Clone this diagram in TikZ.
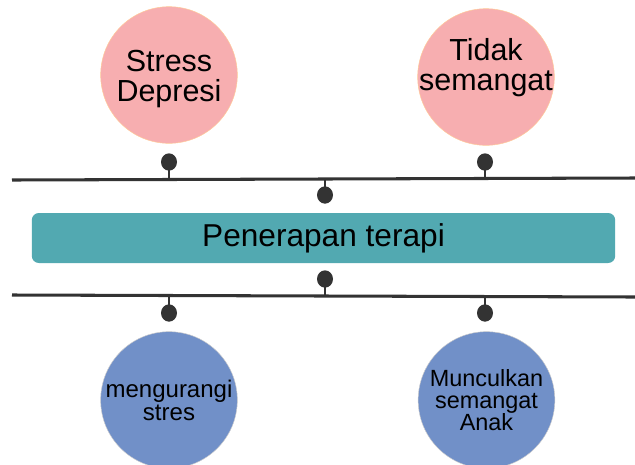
\documentclass[tikz,border=0pt]{standalone}
\usepackage{fontspec}
\setmainfont{Liberation Sans}
\usepackage{tikz}
\usetikzlibrary{positioning, arrows.meta}
\definecolor{merahmuda}{HTML}{F7AEB0}
\definecolor{birutua}{HTML}{7190C8}
\definecolor{tosca}{HTML}{52A9B1}
\definecolor{abugelap}{HTML}{333333}
\tikzset{
    lingkaran_masalah/.style={circle, draw=orange!40, fill=merahmuda, thin, minimum size=4.1cm, inner sep=0pt},
    teks_masalah/.style={align=center, inner sep=0pt, font=\fontsize{26}{26}\selectfont},
    lingkaran_hasil/.style={circle, draw=gray!40, fill=birutua, thin, minimum size=4.1cm, inner sep=0pt, align=center, font=\fontsize{20.5}{19.5}\selectfont},
    kotak_terapi/.style={rectangle, rounded corners=6pt, fill=tosca, minimum width=17.5cm, minimum height=1.5cm, align=center, font=\fontsize{27}{27}\selectfont},
    titik/.style={ellipse, fill=abugelap, minimum width=0.48cm, minimum height=0.52cm, inner sep=0pt},
    garis/.style={draw=abugelap, line width=2.6pt},
    tangkai/.style={draw=abugelap, line width=2.2pt}
}
\usetikzlibrary{shapes.geometric}
\begin{document}
\begin{tikzpicture}[x=0.03cm, y=-0.03cm]
    \useasboundingbox (0,0) rectangle (635,464);

    \node[lingkaran_masalah] (stres) at (169,75) {};
    \node[teks_masalah] (teks_stres) at ([yshift=-0.12cm]stres.center) {Stress\\Depresi};
    \node[lingkaran_masalah] (lesu) at (486,77) {};
    \node[teks_masalah] (teks_lesu) at ([yshift=0.28cm]lesu.center) {Tidak\\semangat};

    \coordinate (atas_kiri) at (12,180);
    \coordinate (atas_kanan) at (635,178);
    \draw[garis] (atas_kiri) -- (atas_kanan);

    \node[titik] (t_stres) at (169,162) {};
    \node[titik] (t_lesu) at (485,162) {};
    \draw[tangkai] (t_stres.center) -- (169,179.5);
    \draw[tangkai] (t_lesu.center) -- (485,178.5);

    \node[kotak_terapi] (terapi) at (323.5,238) {Penerapan terapi};

    \node[titik] (t_terapi_atas) at (325,195) {};
    \draw[tangkai] (t_terapi_atas.center) -- (325,179);
    \node[titik] (t_terapi_bawah) at (325,279) {};

    \coordinate (bawah_kiri) at (12,295);
    \coordinate (bawah_kanan) at (635,297);
    \draw[garis] (bawah_kiri) -- (bawah_kanan);
    \draw[tangkai] (t_terapi_bawah.center) -- (325,296);

    \node[titik] (t_kurang) at (169,313) {};
    \node[titik] (t_muncul) at (485,313) {};
    \draw[tangkai] (t_kurang.center) -- (169,295.5);
    \draw[tangkai] (t_muncul.center) -- (485,296.5);

    \node[lingkaran_hasil] (kurang) at (169,400) {mengurangi\\stres};
    \node[lingkaran_hasil, font=\fontsize{20}{18.8}\selectfont] (muncul) at (486.5,400) {Munculkan\\semangat\\Anak};
\end{tikzpicture}
\end{document}
